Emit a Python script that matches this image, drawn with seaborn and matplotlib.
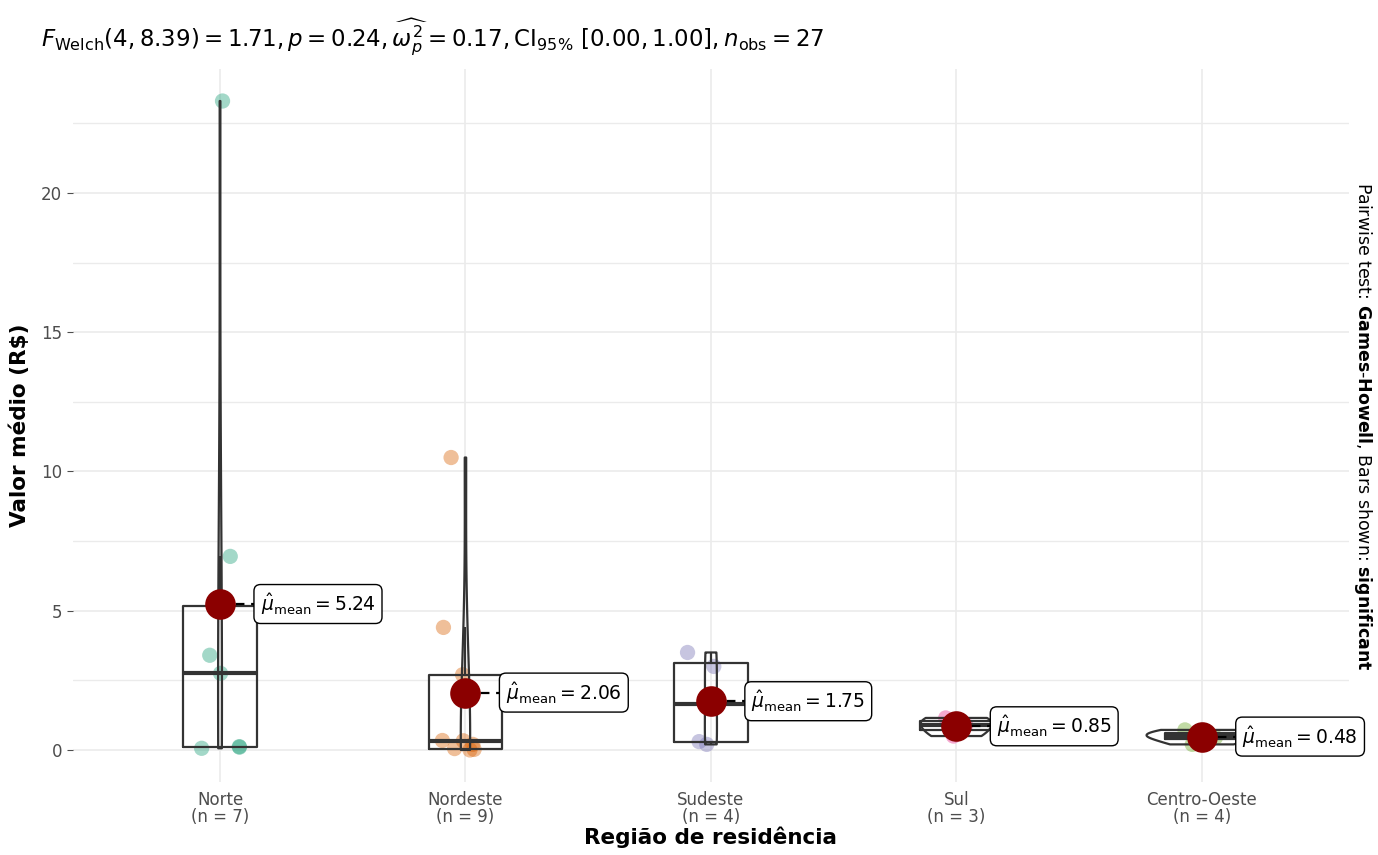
import numpy as np
import pandas as pd
import matplotlib
matplotlib.use("Agg")
import matplotlib.pyplot as plt
import seaborn as sns

# ---------------------------
# Data
# ---------------------------
regions = ["Norte", "Nordeste", "Sudeste", "Sul", "Centro-Oeste"]
norte = [23.3, 6.95, 3.4, 2.75, 0.12, 0.1, 0.06]
nordeste = [10.5, 4.4, 2.7, 0.34, 0.33, 0.2, 0.05, 0.02, 0.0]
sudeste = [3.5, 3.0, 0.3, 0.2]
sul = [1.15, 0.9, 0.5]
centro_oeste = [0.72, 0.55, 0.45, 0.2]

title_text = (r"$F_{\mathrm{Welch}}(4, 8.39) = 1.71, p = 0.24, "
              r"\widehat{\omega_p^2} = 0.17, \mathrm{CI}_{95\%}\ [0.00, 1.00], "
              r"n_{\mathrm{obs}} = 27$")
caption_text = (r"Pairwise test: $\mathbf{Games}$-$\mathbf{Howell}$, "
                r"Bars shown: $\mathbf{significant}$")

palette = ["#1B9E77", "#D95F02", "#7570B3", "#E7298A", "#66A61E"]

values = [norte, nordeste, sudeste, sul, centro_oeste]
df = pd.DataFrame({
    "region": np.repeat(regions, [len(v) for v in values]),
    "value": np.concatenate(values),
})
df["region"] = pd.Categorical(df["region"], categories=regions, ordered=True)
means = df.groupby("region", observed=True)["value"].mean()

# ---------------------------
# Plot
# ---------------------------
sns.set_style("whitegrid", {"grid.color": "#EBEBEB", "axes.edgecolor": "white"})
plt.rcParams["font.family"] = ["DejaVu Sans"]
plt.rcParams["text.color"] = "black"

fig, ax = plt.subplots(figsize=(13.78, 8.55), dpi=100)
fig.subplots_adjust(left=0.0528, right=0.979, top=0.9198, bottom=0.0849)

np.random.seed(3)
sns.stripplot(data=df, x="region", y="value", hue="region", palette=palette,
              jitter=0.1, size=11, alpha=0.4, linewidth=0, legend=False,
              ax=ax, zorder=2)
sns.boxplot(data=df, x="region", y="value", width=0.3, fill=False,
            color="#333333", showfliers=False, showcaps=False, linewidth=1.6,
            medianprops={"linewidth": 3}, ax=ax, zorder=3)
sns.violinplot(data=df, x="region", y="value", fill=False, inner=None,
               cut=0, density_norm="area", width=0.45, bw_method="silverman",
               color="#333333", linewidth=1.6, ax=ax, zorder=3)
sns.pointplot(data=df, x="region", y="value", estimator="mean",
              errorbar=None, linestyle="none", marker="o", color="#8B0000",
              markersize=20, ax=ax, zorder=5)

for i, m in enumerate(means):
    ax.plot([i, i + 0.16], [m, m], ls=(0, (4, 3)), color="black", lw=1.6,
            zorder=4)
    ax.text(i + 0.165, m, rf"$\hat{{\mu}}_{{\mathrm{{mean}}}} = {m:.2f}$",
            ha="left", va="center", fontsize=13.5, color="black", zorder=6,
            bbox=dict(boxstyle="round,pad=0.35", fc="white", ec="black",
                      lw=1.0))

ax.set_xlim(-0.6, 4.6)
ax.set_ylim(-1.165, 24.465)
ax.set_yticks([0, 5, 10, 15, 20])
ax.set_yticks([2.5, 7.5, 12.5, 17.5, 22.5], minor=True)
ax.grid(True, which="minor", axis="y", color="#EBEBEB", lw=1)
ax.grid(True, which="major", color="#EBEBEB", lw=1.2)
ax.set_xticks(range(len(regions)))
ax.set_xticklabels([f"{r}\n(n = {len(v)})" for r, v in zip(regions, values)],
                   fontsize=12, color="#4D4D4D", linespacing=0.95)
ax.tick_params(axis="y", labelsize=12, labelcolor="#4D4D4D", length=4,
               color="#4D4D4D", left=True, which="major")
ax.tick_params(axis="y", which="minor", left=False)
ax.tick_params(axis="x", length=0, pad=6)
ax.set_xlabel("Região de residência", fontsize=15.5, fontweight="bold",
              color="black", labelpad=0)
ax.set_ylabel(r"Valor médio (R\$)", fontsize=15.5, fontweight="bold",
              color="black", labelpad=8)
sns.despine(ax=ax, left=True, bottom=True)

fig.text(0.030, 0.956, title_text, fontsize=16.5, ha="left", va="center")
fig.text(0.989, 0.502, caption_text, fontsize=12.5, rotation=-90,
         ha="center", va="center")

fig.savefig("out.png", dpi=100)
